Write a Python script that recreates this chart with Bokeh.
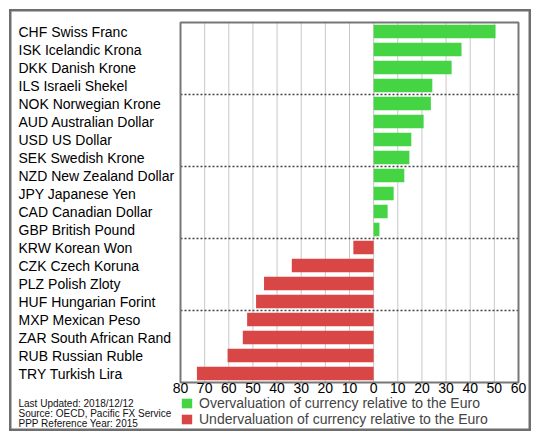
from bokeh.plotting import figure
from bokeh.models import Range1d, Legend, LegendItem, ColumnDataSource
from bokeh.core.properties import value
from bokeh.embed import file_html
from bokeh.resources import INLINE

currencies = ["CHF Swiss Franc", "ISK Icelandic Krona", "DKK Danish Krone", "ILS Israeli Shekel",
              "NOK Norwegian Krone", "AUD Australian Dollar", "USD US Dollar", "SEK Swedish Krone",
              "NZD New Zealand Dollar", "JPY Japanese Yen", "CAD Canadian Dollar", "GBP British Pound",
              "KRW Korean Won", "CZK Czech Koruna", "PLZ Polish Zloty", "HUF Hungarian Forint",
              "MXP Mexican Peso", "ZAR South African Rand", "RUB Russian Ruble", "TRY Turkish Lira"]
valuation = [50.5, 36.4, 32.3, 24.3, 23.7, 20.7, 15.6, 14.8, 12.7, 8.3, 5.8, 2.4,
             -8.4, -33.9, -45.4, -48.7, -52.4, -54.2, -60.5, -73.2]
tick_values = [-80, -70, -60, -50, -40, -30, -20, -10, 0, 10, 20, 30, 40, 50, 60]
tick_labels = ["80", "70", "60", "50", "40", "30", "20", "10", "0", "10", "20", "30", "40", "50", "60"]
notes = ["Last Updated: 2018/12/12", "Source: OECD, Pacific FX Service", "PPP Reference Year: 2015"]
legend_labels = ["Overvaluation of currency relative to the Euro",
                 "Undervaluation of currency relative to the Euro"]
separators_after = [4, 8, 12, 16]

GREEN = "#44d444"
RED = "#d84646"
FONT = "Liberation Sans"

n = len(currencies)
ypos = [n - i - 0.5 for i in range(n)]
x_min, x_max = tick_values[0], tick_values[-1]

# canvas and chart-area geometry (pixels)
W, H = 522, 422
CL, CR, CT, CB = 171, 509, 13, 373
sx = (CR - CL) / (x_max - x_min)     # px per value unit
sy = (CB - CT) / n                   # px per row

x_range = Range1d(x_min - CL / sx, x_max + (W - CR) / sx)
y_range = Range1d(-(H - CB) / sy, n + CT / sy)

p = figure(width=W, height=H, output_backend="svg", toolbar_location=None,
           x_range=x_range, y_range=y_range,
           x_axis_location=None, y_axis_location=None,
           min_border=0, min_border_left=0, min_border_right=0,
           min_border_top=0, min_border_bottom=0)
p.outline_line_color = "#6e6e6e"
p.outline_line_width = 4
p.xgrid.grid_line_color = None
p.ygrid.grid_line_color = None
p.styles = {"margin-left": "9px", "margin-top": "9px"}

# vertical grid lines at the ticks
p.segment(x0=tick_values, y0=[0] * len(tick_values), x1=tick_values, y1=[n] * len(tick_values),
          line_color="#c8c8c8", line_width=1)

# bars
pos = ColumnDataSource(dict(y=[y for y, v in zip(ypos, valuation) if v >= 0],
                            v=[v for v in valuation if v >= 0]))
neg = ColumnDataSource(dict(y=[y for y, v in zip(ypos, valuation) if v < 0],
                            v=[v for v in valuation if v < 0]))
r_pos = p.hbar(y="y", right="v", left=0, height=0.76, source=pos, fill_color=GREEN, line_color=None)
r_neg = p.hbar(y="y", right="v", left=0, height=0.76, source=neg, fill_color=RED, line_color=None)

# dotted group separators
sep_y = [n - k for k in separators_after]
p.segment(x0=[x_min] * len(sep_y), y0=sep_y, x1=[x_max] * len(sep_y), y1=sep_y,
          line_color="#444444", line_width=1.5, line_dash="2 2")

# chart frame
p.quad(left=[x_min], right=[x_max], bottom=[0], top=[n], fill_color=None,
       line_color="#777777", line_width=2)

# x tick labels
p.text(x=tick_values, y=[0] * len(tick_values), text=tick_labels, text_font=value(FONT),
       text_font_size="14px", text_align="center", text_baseline="top", text_color="black")

# category labels
label_x = x_range.start + 9 / sx
p.text(x=[label_x] * n, y=ypos, text=currencies, text_font=value(FONT), text_font_size="14px",
       text_baseline="middle", text_align="left", text_color="black")

# footnotes
note_y = [-(20.5 + 10.25 * i) / sy for i in range(len(notes))]
p.text(x=[label_x] * len(notes), y=note_y, text=notes, text_font=value(FONT), text_font_size="10px",
       text_baseline="alphabetic", text_align="left", text_color="#111111")

legend = Legend(items=[LegendItem(label=legend_labels[0], renderers=[r_pos]),
                       LegendItem(label=legend_labels[1], renderers=[r_neg])],
                location=(CL, 4), padding=0, margin=0, spacing=0,
                glyph_width=13, glyph_height=12, label_standoff=6,
                label_text_font=FONT, label_text_font_size="14px", label_height=12,
                border_line_color=None, background_fill_alpha=0)
p.add_layout(legend, "center")

open("out.html", "w").write(file_html(p, INLINE))
